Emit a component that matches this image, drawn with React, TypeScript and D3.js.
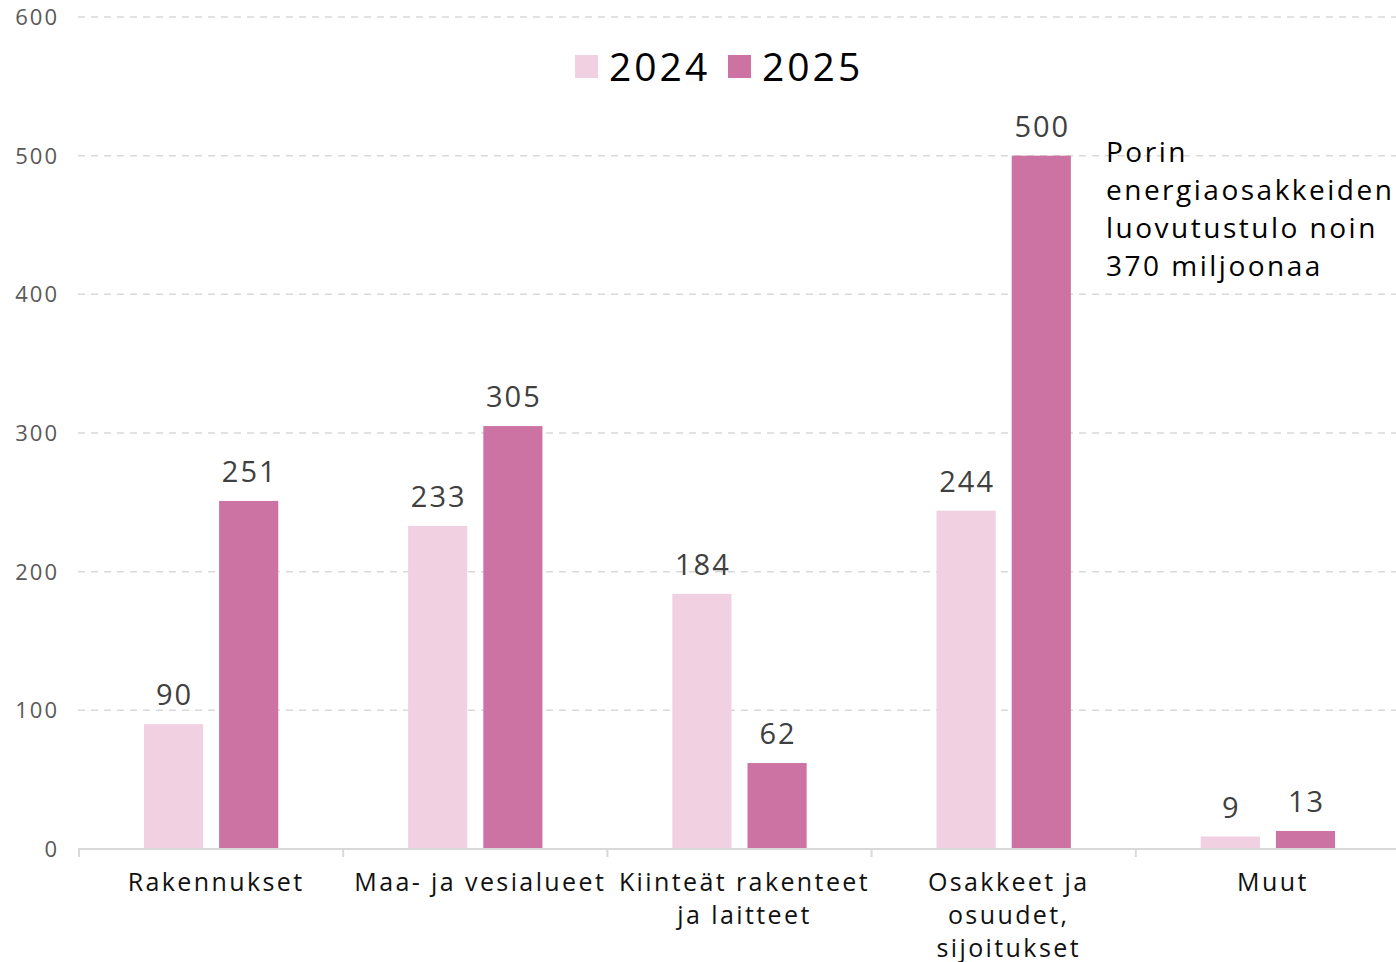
import { useEffect, useRef } from 'react';
import * as d3 from 'd3';

// data
const categories: string[][] = [
	['Rakennukset'],
	['Maa- ja vesialueet'],
	['Kiinteät rakenteet', 'ja laitteet'],
	['Osakkeet ja', 'osuudet,', 'sijoitukset'],
	['Muut']
];
const seriesNames = ['2024', '2025'];
const values2024 = [90, 233, 184, 244, 9];
const values2025 = [251, 305, 62, 500, 13];
const yTicks = [0, 100, 200, 300, 400, 500, 600];
const noteLines = ['Porin', 'energiaosakkeiden', 'luovutustulo noin', '370 miljoonaa'];

const colors = ['#f0d0e1', '#cd73a4'];
const FONT = "'Open Sans', 'DejaVu Sans', sans-serif";

function App() {
	const ref = useRef<SVGSVGElement>(null);
	const width = 1396;
	const height = 962;
	const margin = { top: 17, bottom: 113, left: 79 };

	useEffect(() => {
		const svg = d3.select(ref.current);
		svg.selectAll('*').remove();

		// plot runs a bit past the right edge, as in the original
		const x0 = d3
			.scaleBand<number>()
			.domain(d3.range(categories.length))
			.range([margin.left, 1400]);
		const x1 = d3
			.scaleBand<string>()
			.domain(seriesNames)
			.range([0, x0.bandwidth()])
			.paddingInner(0.213)
			.paddingOuter(0.864);
		const y = d3
			.scaleLinear()
			.domain([0, 600])
			.range([height - margin.bottom, margin.top]);

		// grid
		svg.append('g')
			.selectAll('line')
			.data(yTicks.filter((t) => t > 0))
			.enter()
			.append('line')
			.attr('x1', 78)
			.attr('x2', width)
			.attr('y1', (d) => y(d))
			.attr('y2', (d) => y(d))
			.attr('stroke', '#d9d9d9')
			.attr('stroke-width', 1.5)
			.attr('stroke-dasharray', '7,6');

		svg.append('g')
			.selectAll('text')
			.data(yTicks)
			.enter()
			.append('text')
			.attr('x', 59)
			.attr('y', (d) => y(d) + 8)
			.attr('text-anchor', 'end')
			.style('font-family', FONT)
			.style('font-size', '22px')
			.style('letter-spacing', '2px')
			.style('fill', '#595959')
			.text((d) => d);

		const series = [values2024, values2025];
		const g = svg.append('g');
		series.forEach((vals, si) => {
			g.selectAll(null)
				.data(vals)
				.enter()
				.append('rect')
				.attr('x', (_, i) => x0(i)! + x1(seriesNames[si])!)
				.attr('y', (d) => y(d))
				.attr('width', x1.bandwidth())
				.attr('height', (d) => y(0) - y(d))
				.attr('fill', colors[si]);

			g.selectAll(null)
				.data(vals)
				.enter()
				.append('text')
				.attr('x', (_, i) => x0(i)! + x1(seriesNames[si])! + x1.bandwidth() / 2 + 1)
				.attr('y', (d) => y(d) - 19)
				.attr('text-anchor', 'middle')
				.style('font-family', FONT)
				.style('font-size', '29px')
				.style('letter-spacing', '2px')
				.style('fill', '#404040')
				.text((d) => d);
		});

		// x axis
		const axis = svg.append('g');
		axis.append('line')
			.attr('x1', 78)
			.attr('x2', width)
			.attr('y1', y(0))
			.attr('y2', y(0))
			.attr('stroke', '#d9d9d9')
			.attr('stroke-width', 2);
		const tickXs = d3.range(categories.length).map((i) => x0(i)!);
		axis.selectAll(null)
			.data(tickXs)
			.enter()
			.append('line')
			.attr('x1', (d) => d)
			.attr('x2', (d) => d)
			.attr('y1', y(0))
			.attr('y2', y(0) + 8)
			.attr('stroke', '#d9d9d9')
			.attr('stroke-width', 2);

		const labels = axis
			.selectAll(null)
			.data(categories)
			.enter()
			.append('text')
			.attr('text-anchor', 'middle')
			.style('font-family', FONT)
			.style('font-size', '25px')
			.style('letter-spacing', '2.4px')
			.style('fill', '#111');
		labels
			.selectAll('tspan')
			.data((d, i) => d.map((line) => ({ line, i })))
			.enter()
			.append('tspan')
			.attr('x', (d) => x0(d.i)! + x0.bandwidth() / 2 + 5)
			.attr('y', (_, k) => 891 + k * 33)
			.text((d) => d.line);

		// legend
		const legend = svg.append('g');
		const legendX = [575, 728];
		seriesNames.forEach((name, i) => {
			legend.append('rect')
				.attr('x', legendX[i])
				.attr('y', 55)
				.attr('width', 23)
				.attr('height', 23)
				.attr('fill', colors[i]);
			legend.append('text')
				.attr('x', legendX[i] + 34)
				.attr('y', 81)
				.style('font-family', FONT)
				.style('font-size', '39px')
				.style('letter-spacing', '3px')
				.style('fill', '#000')
				.text(name);
		});

		// note
		svg.append('text')
			.style('font-family', FONT)
			.style('font-size', '28px')
			.style('letter-spacing', '2.5px')
			.style('fill', '#000')
			.selectAll('tspan')
			.data(noteLines)
			.enter()
			.append('tspan')
			.attr('x', 1106)
			.attr('y', (_, k) => 162 + k * 38)
			.text((d) => d);
	}, []);

	return <svg ref={ref} width={width} height={height} style={{ position: 'absolute', left: 0, top: 0 }} />;
}

export default App;
